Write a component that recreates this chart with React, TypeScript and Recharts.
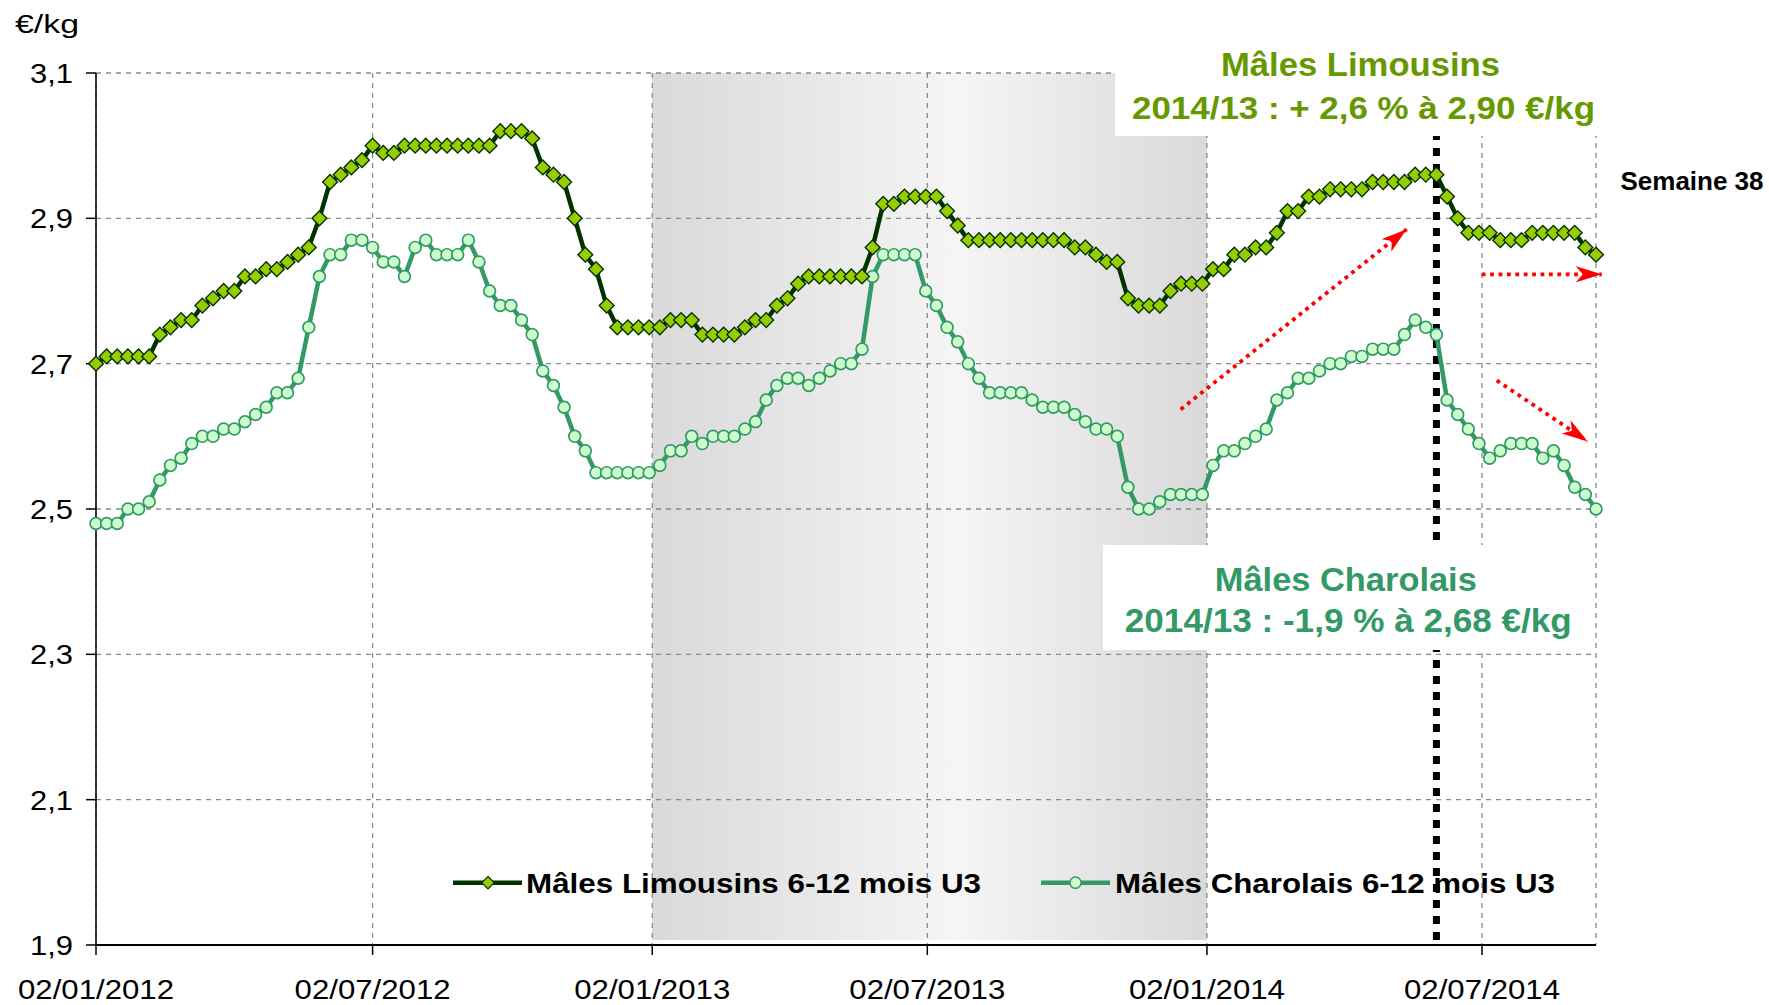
import React from 'react';
import {
  LineChart,
  Line,
  XAxis,
  YAxis,
  CartesianGrid,
  ReferenceArea,
  ReferenceLine,
  Legend,
} from 'recharts';

// ---------- DATA ----------
// Weekly prices (€/kg), first week = 02/01/2012
const limousin = [
  2.70, 2.71, 2.71, 2.71, 2.71, 2.71, 2.74, 2.75, 2.76, 2.76,
  2.78, 2.79, 2.80, 2.80, 2.82, 2.82, 2.83, 2.83, 2.84, 2.85,
  2.86, 2.90, 2.95, 2.96, 2.97, 2.98, 3.00, 2.99, 2.99, 3.00,
  3.00, 3.00, 3.00, 3.00, 3.00, 3.00, 3.00, 3.00, 3.02, 3.02,
  3.02, 3.01, 2.97, 2.96, 2.95, 2.90, 2.85, 2.83, 2.78, 2.75,
  2.75, 2.75, 2.75, 2.75, 2.76, 2.76, 2.76, 2.74, 2.74, 2.74,
  2.74, 2.75, 2.76, 2.76, 2.78, 2.79, 2.81, 2.82, 2.82, 2.82,
  2.82, 2.82, 2.82, 2.86, 2.92, 2.92, 2.93, 2.93, 2.93, 2.93,
  2.91, 2.89, 2.87, 2.87, 2.87, 2.87, 2.87, 2.87, 2.87, 2.87,
  2.87, 2.87, 2.86, 2.86, 2.85, 2.84, 2.84, 2.79, 2.78, 2.78,
  2.78, 2.80, 2.81, 2.81, 2.81, 2.83, 2.83, 2.85, 2.85, 2.86,
  2.86, 2.88, 2.91, 2.91, 2.93, 2.93, 2.94, 2.94, 2.94, 2.94,
  2.95, 2.95, 2.95, 2.95, 2.96, 2.96, 2.96, 2.93, 2.90, 2.88,
  2.88, 2.88, 2.87, 2.87, 2.87, 2.88, 2.88, 2.88, 2.88, 2.88,
  2.86, 2.85,
];

const charolais = [
  2.48, 2.48, 2.48, 2.50, 2.50, 2.51, 2.54, 2.56, 2.57, 2.59,
  2.60, 2.60, 2.61, 2.61, 2.62, 2.63, 2.64, 2.66, 2.66, 2.68,
  2.75, 2.82, 2.85, 2.85, 2.87, 2.87, 2.86, 2.84, 2.84, 2.82,
  2.86, 2.87, 2.85, 2.85, 2.85, 2.87, 2.84, 2.80, 2.78, 2.78,
  2.76, 2.74, 2.69, 2.67, 2.64, 2.60, 2.58, 2.55, 2.55, 2.55,
  2.55, 2.55, 2.55, 2.56, 2.58, 2.58, 2.60, 2.59, 2.60, 2.60,
  2.60, 2.61, 2.62, 2.65, 2.67, 2.68, 2.68, 2.67, 2.68, 2.69,
  2.70, 2.70, 2.72, 2.82, 2.85, 2.85, 2.85, 2.85, 2.80, 2.78,
  2.75, 2.73, 2.70, 2.68, 2.66, 2.66, 2.66, 2.66, 2.65, 2.64,
  2.64, 2.64, 2.63, 2.62, 2.61, 2.61, 2.60, 2.53, 2.50, 2.50,
  2.51, 2.52, 2.52, 2.52, 2.52, 2.56, 2.58, 2.58, 2.59, 2.60,
  2.61, 2.65, 2.66, 2.68, 2.68, 2.69, 2.70, 2.70, 2.71, 2.71,
  2.72, 2.72, 2.72, 2.74, 2.76, 2.75, 2.74, 2.65, 2.63, 2.61,
  2.59, 2.57, 2.58, 2.59, 2.59, 2.59, 2.57, 2.58, 2.56, 2.53,
  2.52, 2.50,
];

// X ticks: days after 02/01/2012
const tickDays = [0, 182, 366, 547, 731, 912];
const tickLabels = ['02/01/2012', '02/07/2012', '02/01/2013', '02/07/2013', '02/01/2014', '02/07/2014'];

const yTicks = [1.9, 2.1, 2.3, 2.5, 2.7, 2.9, 3.1];
const yTickLabels = ['1,9', '2,1', '2,3', '2,5', '2,7', '2,9', '3,1'];

// Annotation anchors (week index / price)
const markerWeek = 126;
const shadeStartTick = 2; // 02/01/2013
const shadeEndTick = 4; // 02/01/2014
const arrowUp = [{ x: 101.96, y: 2.637 }, { x: 123.2, y: 2.885 }];
const arrowFlat = [{ x: 130.26, y: 2.823 }, { x: 141.54, y: 2.823 }];
const arrowDown = [{ x: 131.67, y: 2.677 }, { x: 140.22, y: 2.593 }];

const seriesNames = ['Mâles Limousins 6-12 mois U3', 'Mâles Charolais 6-12 mois U3'];

// ---------- BUILD ----------
const tickWeeks = tickDays.map((d) => d / 7);
const data = limousin.map((v, i) => ({ w: i, lim: v, cha: charolais[i] }));

const FONT = '"Liberation Sans", Arial, Helvetica, sans-serif';
const LIM_LINE = '#003300';
const LIM_FILL = '#99cc00';
const CHA_LINE = '#339966';
const CHA_FILL = '#ccffcc';

const Diamond = (p: any) => {
  const { cx, cy, index } = p;
  if (cx == null || cy == null) return <g key={`d-${index}`} />;
  const s = 7.4;
  return (
    <path
      key={`d-${index}`}
      d={`M${cx},${cy - s}L${cx + s},${cy}L${cx},${cy + s}L${cx - s},${cy}Z`}
      fill={LIM_FILL}
      stroke={LIM_LINE}
      strokeWidth={1.4}
    />
  );
};

const Dot = (p: any) => {
  const { cx, cy, index } = p;
  if (cx == null || cy == null) return <g key={`c-${index}`} />;
  return <circle key={`c-${index}`} cx={cx} cy={cy} r={5.9} fill={CHA_FILL} stroke={CHA_LINE} strokeWidth={1.7} />;
};

const YTick = (p: any) => {
  const idx = yTicks.findIndex((t) => Math.abs(t - p.payload.value) < 1e-6);
  const label = idx >= 0 ? yTickLabels[idx] : String(p.payload.value);
  return (
    <text x={p.x} y={p.y + 10} textAnchor="end" fontFamily={FONT} fontSize={28} fill="#000" textLength={43} lengthAdjust="spacingAndGlyphs">
      {label}
    </text>
  );
};

const XTick = (p: any) => {
  const idx = tickWeeks.findIndex((t) => Math.abs(t - p.payload.value) < 1e-6);
  const label = idx >= 0 ? tickLabels[idx] : '';
  return (
    <text x={p.x} y={p.y + 44} textAnchor="middle" fontFamily={FONT} fontSize={27.5} fill="#000" textLength={156} lengthAdjust="spacingAndGlyphs">
      {label}
    </text>
  );
};

const ArrowShape = (p: any) => (
  <line
    x1={p.x1}
    y1={p.y1}
    x2={p.x2}
    y2={p.y2}
    stroke="#ff0000"
    strokeWidth={3.8}
    strokeDasharray="3.8 4.6"
    markerEnd="url(#redArrowHead)"
  />
);

const LegendContent = () => (
  <svg width={1769} height={60} style={{ display: 'block' }}>
    <line x1={453} y1={32.7} x2={522} y2={32.7} stroke={LIM_LINE} strokeWidth={4.5} />
    <path d="M488,26.5 L494.2,32.7 L488,38.9 L481.8,32.7 Z" fill={LIM_FILL} stroke={LIM_LINE} strokeWidth={1.2} />
    <text x={526} y={42.5} fontFamily={FONT} fontWeight="bold" fontSize={27} fill="#000" textLength={455} lengthAdjust="spacingAndGlyphs">
      {seriesNames[0]}
    </text>
    <line x1={1041} y1={32.7} x2={1110} y2={32.7} stroke={CHA_LINE} strokeWidth={4.5} />
    <circle cx={1075.5} cy={32.7} r={5.6} fill={CHA_FILL} stroke={CHA_LINE} strokeWidth={1.5} />
    <text x={1115} y={42.5} fontFamily={FONT} fontWeight="bold" fontSize={27} fill="#000" textLength={440} lengthAdjust="spacingAndGlyphs">
      {seriesNames[1]}
    </text>
  </svg>
);

export default function App() {
  return (
    <div style={{ position: 'absolute', left: 0, top: 0, width: 1769, height: 1005, background: '#fff' }}>
      <svg width={0} height={0} style={{ position: 'absolute' }}>
        <defs>
          <linearGradient id="shadeGrad" x1="0" y1="0" x2="1" y2="0">
            <stop offset="0" stopColor="#d9d9d9" />
            <stop offset="0.55" stopColor="#f5f5f5" />
            <stop offset="1" stopColor="#d9d9d9" />
          </linearGradient>
          <marker id="redArrowHead" markerUnits="userSpaceOnUse" markerWidth={28} markerHeight={18} refX={26} refY={8} orient="auto" viewBox="0 0 28 18">
            <path d="M0,0 L26,8 L0,16 L7,8 Z" fill="#ff0000" />
          </marker>
        </defs>
      </svg>
      <LineChart width={1769} height={1005} data={data} margin={{ top: 73, right: 173, left: 0, bottom: 0 }}>
        <ReferenceArea
          x1={tickWeeks[shadeStartTick]}
          x2={tickWeeks[shadeEndTick]}
          y1={1.907}
          y2={3.1}
          fill="url(#shadeGrad)"
          fillOpacity={1}
          stroke="none"
          ifOverflow="visible"
          zIndex={-150}
        />
        <CartesianGrid stroke="#8a8a8a" strokeWidth={1.3} strokeDasharray="5 5" />
        <XAxis
          dataKey="w"
          type="number"
          domain={[0, 141]}
          ticks={tickWeeks}
          interval={0}
          height={60}
          tickSize={10}
          tickMargin={0}
          axisLine={{ stroke: '#000', strokeWidth: 2 }}
          tickLine={{ stroke: '#000', strokeWidth: 1.5 }}
          tick={<XTick />}
        />
        <YAxis
          type="number"
          domain={[1.9, 3.1]}
          ticks={yTicks}
          interval={0}
          width={96}
          tickSize={10}
          tickMargin={13}
          axisLine={{ stroke: '#000', strokeWidth: 1.5 }}
          tickLine={{ stroke: '#000', strokeWidth: 1.5 }}
          tick={<YTick />}
        />
        <ReferenceLine
          segment={[{ x: markerWeek, y: 1.907 }, { x: markerWeek, y: 3.1 }]}
          stroke="#000"
          strokeWidth={7}
          strokeDasharray="8 8"
          ifOverflow="visible"
        />
        <ReferenceLine segment={arrowUp} ifOverflow="visible" shape={ArrowShape} />
        <ReferenceLine segment={arrowFlat} ifOverflow="visible" shape={ArrowShape} />
        <ReferenceLine segment={arrowDown} ifOverflow="visible" shape={ArrowShape} />
        <Line
          dataKey="cha"
          name={seriesNames[1]}
          type="linear"
          stroke={CHA_LINE}
          strokeWidth={4.5}
          dot={Dot}
          activeDot={false}
          isAnimationActive={false}
        />
        <Line
          dataKey="lim"
          name={seriesNames[0]}
          type="linear"
          stroke={LIM_LINE}
          strokeWidth={4.5}
          dot={Diamond}
          activeDot={false}
          isAnimationActive={false}
        />
        <Legend
          layout="horizontal"
          verticalAlign="middle"
          align="center"
          width={1769}
          height={60}
          wrapperStyle={{ left: 0, top: 850, width: 1769, height: 60 }}
          content={LegendContent}
        />
      </LineChart>
      <svg width={1769} height={1005} style={{ position: 'absolute', left: 0, top: 0, pointerEvents: 'none' }}>
        <text x={15} y={33} fontFamily={FONT} fontSize={26} fill="#000" textLength={64} lengthAdjust="spacingAndGlyphs">
          €/kg
        </text>
        <rect x={1115} y={26} width={487} height={110} fill="#fff" />
        <text x={1360.5} y={76} textAnchor="middle" fontFamily={FONT} fontWeight="bold" fontSize={32.5} fill="#669900" textLength={279} lengthAdjust="spacingAndGlyphs">
          Mâles Limousins
        </text>
        <text x={1363.5} y={118.5} textAnchor="middle" fontFamily={FONT} fontWeight="bold" fontSize={32} fill="#669900" textLength={463} lengthAdjust="spacingAndGlyphs">
          2014/13 : + 2,6 % à 2,90 €/kg
        </text>
        <text x={1620.5} y={189.5} fontFamily={FONT} fontWeight="bold" fontSize={25.5} fill="#000" textLength={143} lengthAdjust="spacingAndGlyphs">
          Semaine 38
        </text>
        <rect x={1103} y={545} width={492} height={105} fill="#fff" />
        <text x={1345.8} y={591} textAnchor="middle" fontFamily={FONT} fontWeight="bold" fontSize={32.5} fill={CHA_LINE} textLength={262} lengthAdjust="spacingAndGlyphs">
          Mâles Charolais
        </text>
        <text x={1348.3} y={632} textAnchor="middle" fontFamily={FONT} fontWeight="bold" fontSize={32.5} fill={CHA_LINE} textLength={447} lengthAdjust="spacingAndGlyphs">
          2014/13 : -1,9 % à 2,68 €/kg
        </text>
      </svg>
    </div>
  );
}
